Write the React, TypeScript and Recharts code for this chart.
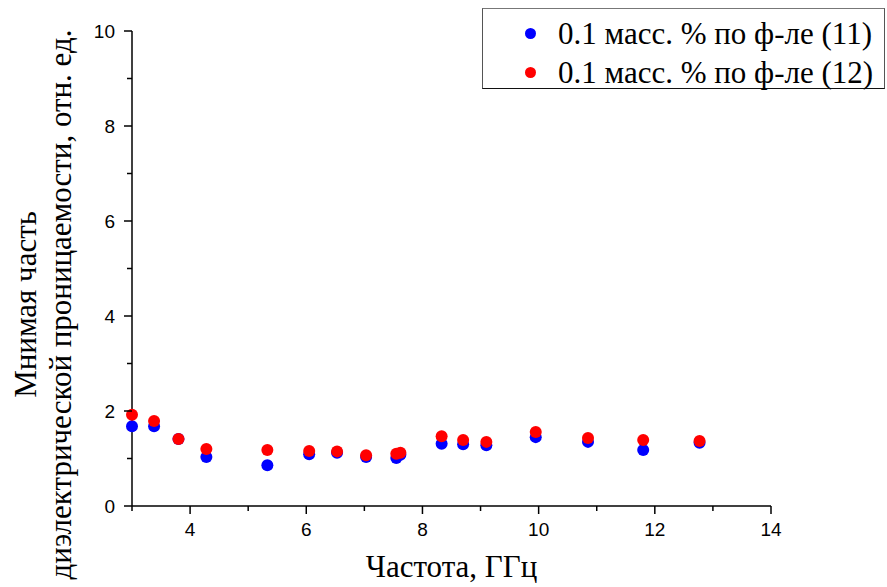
import { ScatterChart, Scatter, XAxis, YAxis } from 'recharts';

const freq = [3.0, 3.38, 3.8, 4.28, 5.33, 6.05, 6.53, 7.03, 7.55, 7.62, 8.33, 8.7, 9.1, 9.95, 10.85, 11.8, 12.77];
const eps11 = [1.68, 1.68, 1.41, 1.03, 0.86, 1.09, 1.12, 1.03, 1.01, 1.08, 1.31, 1.30, 1.28, 1.45, 1.35, 1.18, 1.33];
const eps12 = [1.92, 1.79, 1.41, 1.20, 1.18, 1.16, 1.15, 1.07, 1.10, 1.12, 1.47, 1.39, 1.35, 1.56, 1.43, 1.39, 1.37];

const xTicks = [3, 4, 5, 6, 7, 8, 9, 10, 11, 12, 13, 14];
const yTicks = [0, 1, 2, 3, 4, 5, 6, 7, 8, 9, 10];

const seriesNames = ['0.1 масс. % по ф-ле (11)', '0.1 масс. % по ф-ле (12)'];
const seriesColors = ['#0000ff', '#ff0000'];

const seriesA = freq.map((f, i) => ({ f, v: eps11[i] }));
const seriesB = freq.map((f, i) => ({ f, v: eps12[i] }));

const sans = '"Liberation Sans", Arial, sans-serif';
const serif = '"Liberation Serif", "Times New Roman", serif';

// tick offset used by recharts to place the label (tickSize + tickMargin)
const X_OFF = 17;
const Y_OFF = 17;

const Dot = (color: string) => (p: any) => <circle cx={p.cx} cy={p.cy} r={6} fill={color} />;

const XTick = ({ x, y, payload }: any) => {
  const major = payload.value % 2 === 0;
  const axisY = y - X_OFF;
  return (
    <g>
      <line x1={x} x2={x} y1={axisY} y2={axisY + (major ? 8 : 5)} stroke="#000" strokeWidth={1.5} />
      {major && (
        <text x={x} y={y} dy="0.71em" textAnchor="middle" fontFamily={sans} fontSize={19} fill="#000">
          {payload.value}
        </text>
      )}
    </g>
  );
};

const YTick = ({ x, y, payload }: any) => {
  const major = payload.value % 2 === 0;
  const axisX = x + Y_OFF;
  return (
    <g>
      <line x1={axisX} x2={axisX - (major ? 8 : 5)} y1={y} y2={y} stroke="#000" strokeWidth={1.5} />
      {major && (
        <text x={x} y={y} dy="0.355em" textAnchor="end" fontFamily={sans} fontSize={19} fill="#000">
          {payload.value}
        </text>
      )}
    </g>
  );
};

const YLabel = ({ viewBox }: any) => {
  const mid = viewBox.y + viewBox.height / 2 + 36;
  return (
    <g fontFamily={serif} fontSize={31} fill="#000">
      <text transform={`translate(36, ${mid}) rotate(-90)`} textAnchor="middle">
        Мнимая часть
      </text>
      <text transform={`translate(71, ${mid}) rotate(-90)`} textAnchor="middle">
        диэлектрической проницаемости, отн. ед.
      </text>
    </g>
  );
};

const XLabel = ({ viewBox }: any) => (
  <text x={viewBox.x + viewBox.width / 2} y={577} textAnchor="middle" fontFamily={serif} fontSize={31} fill="#000">
    Частота, ГГц
  </text>
);

export default function App() {
  return (
    <div style={{ position: 'absolute', left: 0, top: 0, width: 887, height: 587, background: '#fff' }}>
      <ScatterChart width={887} height={587} margin={{ top: 31, right: 116, bottom: 0, left: 0 }}>
        <XAxis
          type="number"
          dataKey="f"
          domain={[3, 14]}
          ticks={xTicks}
          interval={0}
          height={81}
          tick={<XTick />}
          tickSize={7}
          tickMargin={10}
          axisLine={{ stroke: '#000', strokeWidth: 1.5 }}
          tickLine={false}
          label={<XLabel />}
        />
        <YAxis
          type="number"
          dataKey="v"
          domain={[0, 10]}
          ticks={yTicks}
          interval={0}
          width={132}
          tick={<YTick />}
          tickSize={8}
          tickMargin={9}
          axisLine={{ stroke: '#000', strokeWidth: 1.5 }}
          tickLine={false}
          label={<YLabel />}
        />
        <Scatter data={seriesA} shape={Dot(seriesColors[0])} isAnimationActive={false} />
        <Scatter data={seriesB} shape={Dot(seriesColors[1])} isAnimationActive={false} />
      </ScatterChart>
      <div
        style={{
          position: 'absolute',
          left: 482,
          top: 8,
          width: 403,
          height: 81,
          borderTop: '1.5px solid #777',
          borderLeft: '1.5px solid #555',
          borderRight: '1.5px solid #555',
          borderBottom: '1.5px solid #111',
          background: '#fff',
          boxSizing: 'border-box',
          fontFamily: serif,
          fontSize: 31,
          color: '#000',
          paddingTop: 5,
        }}
      >
        {seriesNames.map((name, i) => (
          <div key={name} style={{ display: 'flex', alignItems: 'center', height: 39, whiteSpace: 'nowrap' }}>
            <span
              style={{
                width: 11,
                height: 11,
                borderRadius: 6,
                background: seriesColors[i],
                marginLeft: 42,
                marginRight: 22,
                flexShrink: 0,
              }}
            />
            <span>{name}</span>
          </div>
        ))}
      </div>
    </div>
  );
}
